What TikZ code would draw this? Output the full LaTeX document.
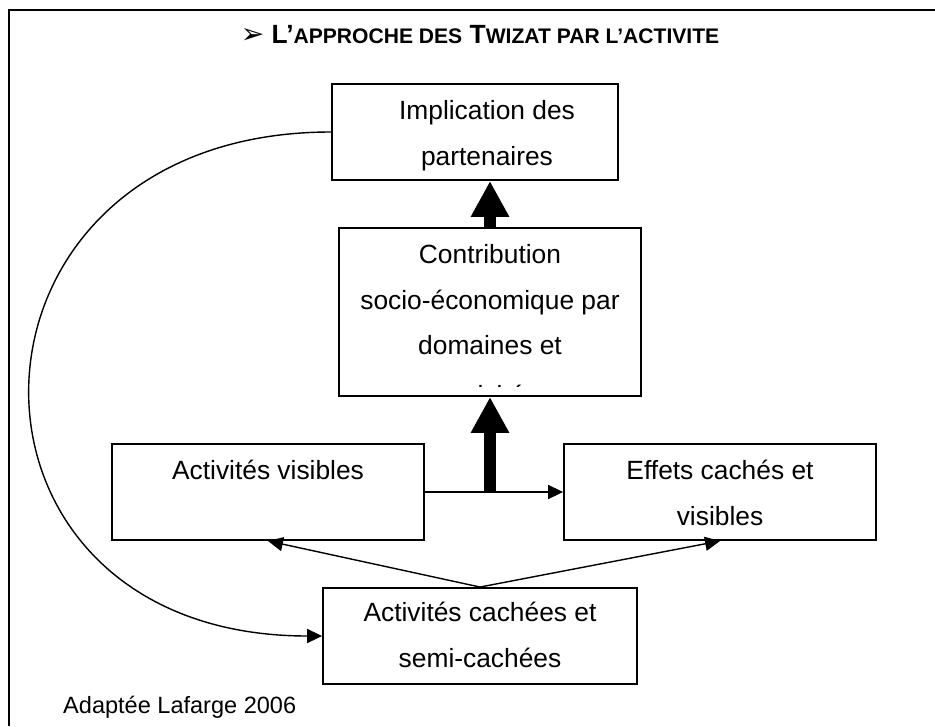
\documentclass[tikz,border=0pt]{standalone}
\usepackage{fontspec}
\setmainfont{Liberation Sans}
\newfontfamily\dingfont{DejaVu Sans}
\usetikzlibrary{arrows.meta,positioning}
\newcommand{\petit}[1]{{\fontsize{12}{14}\selectfont #1}}
\tikzset{
	box/.style={
		rectangle,
		draw,
		line width=1.1pt,
		minimum height=1.92cm,
		inner sep=0pt
	},
	txt/.style={
		align=center,
		inner sep=0pt,
		font=\fontsize{15}{26}\selectfont
	},
	fat/.style={
		line width=6.8pt,
		-{Triangle[length=20.4pt,width=20.4pt]}
	},
	thin/.style={
		line width=0.8pt,
		-{Triangle[length=8.5pt,width=8pt]}
	}
}

\begin{document}
\begin{tikzpicture}[x=0.02cm,y=-0.02cm]
		\useasboundingbox (0,0) rectangle (935,726);
		% cadre
		\draw [line width=1.2pt] (9,726) -- (9,10) -- (935,10);
		\node [font=\bfseries\fontsize{15}{18}\selectfont] (title) at (480,35)
		{{\dingfont\fontsize{16}{18}\selectfont ➢} L’\petit{APPROCHE DES} T\petit{WIZAT PAR L’ACTIVITE}};
		% boites
		\node [box,minimum width=5.72cm] (impl) at (475,132) {};
		\node [box,minimum width=6.04cm,minimum height=3.36cm] (contrib) at (490,312) {};
		\node [box,minimum width=6.24cm] (visib) at (268,492) {};
		\node [box,minimum width=6.24cm] (effets) at (720,492) {};
		\node [box,minimum width=6.28cm] (cachees) at (480,636) {};
		% textes
		\node [txt] (impltxt) [below=0.34cm of impl.north, xshift=0.24cm] {Implication des\\partenaires};
		\begin{scope}
		\clip ([yshift=0.2cm]contrib.south west) rectangle (contrib.north east);
		\node [txt] (contribtxt) [below=0.34cm of contrib.north] {Contribution\\socio-économique par\\domaines et\\[2pt]activités};
		\end{scope}
		\node [txt] (visibtxt) [below=0.34cm of visib.north] {Activités visibles};
		\node [txt] (effetstxt) [below=0.34cm of effets.north] {Effets cachés et\\visibles};
		\node [txt] (cacheestxt) [below=0.30cm of cachees.north] {Activités cachées et\\semi-cachées};
		\node [font=\fontsize{13.4}{16}\selectfont,anchor=west] (source) at (57,707) {Adaptée Lafarge 2006};
		% fleches
		\coordinate (hub) at (contrib.south |- visib.east);
		\draw [fat] (contrib.north) -- (contrib.north |- impl.south);
		\draw [thin] (visib.east) -- (effets.west);
		\draw [fat] (hub) -- (contrib.south);
		\draw [thin] (cachees.north) -- (visib.south);
		\draw [thin] (cachees.north) -- (effets.south);
		\draw [thin] (impl.west) to[out=180,in=180,looseness=2] (cachees.west);
\end{tikzpicture}
\end{document}
